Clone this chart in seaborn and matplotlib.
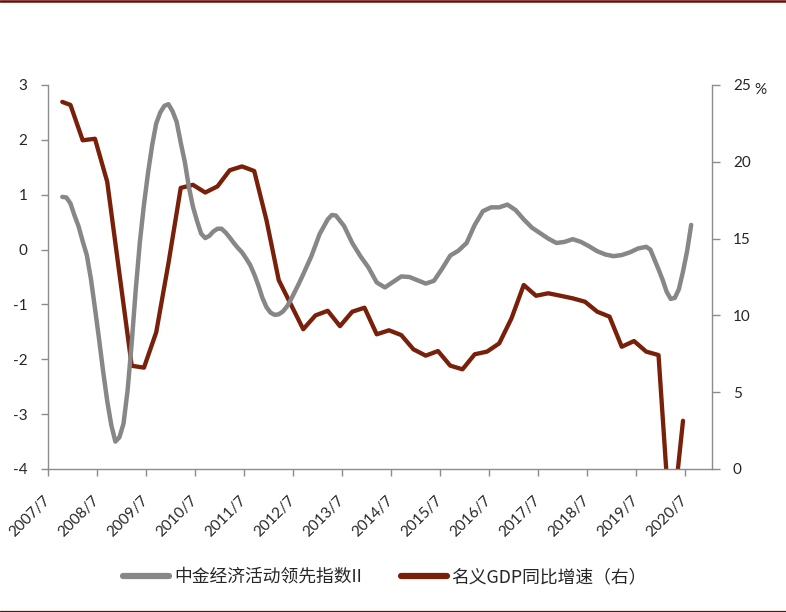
import matplotlib
matplotlib.use("Agg")
import matplotlib.pyplot as plt
import matplotlib.transforms as mtransforms
from matplotlib.lines import Line2D
import pandas as pd
import seaborn as sns

# 中金经济活动领先指数II (left axis), monthly readings
lead_dates = [
    "2007-10", "2007-11", "2007-12", "2008-01", "2008-02", "2008-03", "2008-04", "2008-05",
    "2008-06", "2008-07", "2008-08", "2008-09", "2008-10", "2008-11", "2008-12", "2009-01",
    "2009-02", "2009-03", "2009-04", "2009-05", "2009-06", "2009-07", "2009-08", "2009-09",
    "2009-10", "2009-11", "2009-12", "2010-01", "2010-02", "2010-03", "2010-04", "2010-05",
    "2010-06", "2010-07", "2010-08", "2010-09", "2010-10", "2010-11", "2010-12", "2011-01",
    "2011-02", "2011-03", "2011-04", "2011-05", "2011-06", "2011-07", "2011-08", "2011-09",
    "2011-10", "2011-11", "2011-12", "2012-01", "2012-02", "2012-03", "2012-04", "2012-05",
    "2012-06", "2012-07", "2012-08", "2012-09", "2012-11", "2013-01", "2013-03", "2013-04",
    "2013-05", "2013-07", "2013-09", "2013-11", "2014-01", "2014-03", "2014-05", "2014-07",
    "2014-09", "2014-11", "2015-01", "2015-03", "2015-05", "2015-07", "2015-09", "2015-11",
    "2016-01", "2016-03", "2016-05", "2016-07", "2016-09", "2016-11", "2017-01", "2017-03",
    "2017-05", "2017-07", "2017-09", "2017-11", "2018-01", "2018-03", "2018-05", "2018-07",
    "2018-09", "2018-11", "2019-01", "2019-03", "2019-05", "2019-07", "2019-09", "2019-10",
    "2019-11", "2019-12", "2020-01", "2020-02", "2020-03", "2020-04", "2020-05", "2020-06",
    "2020-07", "2020-08",
]
lead_values = [
    0.96, 0.95, 0.84, 0.62, 0.42, 0.15, -0.10, -0.53,
    -1.07, -1.63, -2.22, -2.76, -3.20, -3.50, -3.42, -3.17,
    -2.56, -1.70, -0.72, 0.14, 0.82, 1.40, 1.90, 2.30,
    2.50, 2.62, 2.65, 2.52, 2.33, 1.95, 1.60, 1.14,
    0.78, 0.52, 0.29, 0.21, 0.25, 0.33, 0.38, 0.38,
    0.31, 0.22, 0.12, 0.03, -0.05, -0.16, -0.28, -0.45,
    -0.65, -0.88, -1.05, -1.15, -1.19, -1.18, -1.13, -1.04,
    -0.91, -0.76, -0.61, -0.45, -0.12, 0.28, 0.55, 0.63,
    0.62, 0.43, 0.12, -0.12, -0.33, -0.60, -0.69, -0.59,
    -0.49, -0.50, -0.56, -0.62, -0.57, -0.35, -0.11, -0.02,
    0.12, 0.45, 0.70, 0.77, 0.77, 0.82, 0.72, 0.55,
    0.40, 0.30, 0.20, 0.12, 0.14, 0.19, 0.14, 0.06,
    -0.03, -0.09, -0.12, -0.10, -0.05, 0.02, 0.05, 0.00,
    -0.18, -0.36, -0.55, -0.77, -0.90, -0.88, -0.72, -0.40,
    -0.03, 0.45,
]

# 名义GDP同比增速 (right axis, %), quarterly
gdp_dates = [
    "2007-10", "2007-12",
    "2008-03", "2008-06", "2008-09", "2008-12",
    "2009-03", "2009-06", "2009-09", "2009-12",
    "2010-03", "2010-06", "2010-09", "2010-12",
    "2011-03", "2011-06", "2011-09", "2011-12",
    "2012-03", "2012-06", "2012-09", "2012-12",
    "2013-03", "2013-06", "2013-09", "2013-12",
    "2014-03", "2014-06", "2014-09", "2014-12",
    "2015-03", "2015-06", "2015-09", "2015-12",
    "2016-03", "2016-06", "2016-09", "2016-12",
    "2017-03", "2017-06", "2017-09", "2017-12",
    "2018-03", "2018-06", "2018-09", "2018-12",
    "2019-03", "2019-06", "2019-09", "2019-12",
    "2020-03", "2020-06",
]
gdp_values = [
    23.9, 23.7,
    21.4, 21.5, 18.7, 12.7,
    6.72, 6.6, 8.9, 13.4,
    18.3, 18.5, 18.0, 18.4,
    19.45, 19.7, 19.4, 16.2,
    12.3, 10.7, 9.1, 10.0,
    10.3, 9.3, 10.24, 10.5,
    8.77, 9.03, 8.72, 7.79,
    7.38, 7.68, 6.73, 6.49,
    7.47, 7.64, 8.18, 9.81,
    11.98, 11.28, 11.44, 11.28,
    11.11, 10.89, 10.24, 9.92,
    7.96, 8.33, 7.64, 7.42,
    -4.4, 3.14,
]

tick_labels = [f"{y}/7" for y in range(2007, 2021)]
lead_name = "中金经济活动领先指数II"
gdp_name = "名义GDP同比增速（右）"


def month_pos(d):
    """Months since 2007/7, centred in the month."""
    y, m = map(int, d.split("-"))
    return (y - 2007) * 12 + (m - 7) + 0.5


lead = pd.DataFrame({"x": [month_pos(d) for d in lead_dates], "v": lead_values})
gdp = pd.DataFrame({"x": [month_pos(d) for d in gdp_dates], "v": gdp_values})

sns.set_style("white")
plt.rcParams["font.family"] = ["Lato", "Noto Sans CJK SC", "DejaVu Sans"]
plt.rcParams["axes.unicode_minus"] = False

GRAY = "#878787"
RED = "#78200a"
AXC = "#8c8c8c"

fig = plt.figure(figsize=(7.86, 6.12), dpi=100)
ax = fig.add_axes([48 / 786, 1 - 469 / 612, (712 - 48) / 786, (469 - 85) / 612])
ax2 = ax.twinx()

sns.lineplot(data=gdp, x="x", y="v", ax=ax2, color=RED, linewidth=3.1,
             solid_joinstyle="round", solid_capstyle="round")
sns.lineplot(data=lead, x="x", y="v", ax=ax, color=GRAY, linewidth=3.2,
             solid_joinstyle="round", solid_capstyle="round")

# gray line above the red one
ax.set_zorder(ax2.get_zorder() + 1)
ax.patch.set_visible(False)

ax.set_xlim(0, 162.6)
ax.set_ylim(-4, 3)
ax2.set_ylim(0, 25)
ax.set_yticks(range(-4, 4))
ax2.set_yticks(range(0, 26, 5))
ax.set_xticks([12 * i for i in range(len(tick_labels))])
ax.set_xticklabels(tick_labels, rotation=45, ha="right", va="center",
                   rotation_mode="anchor")
offset = mtransforms.ScaledTranslation(-8 / 100, 0, fig.dpi_scale_trans)
for lab in ax.get_xticklabels():
    lab.set_transform(lab.get_transform() + offset)

for a in (ax, ax2):
    a.set_xlabel("")
    a.set_ylabel("")
    for s in a.spines.values():
        s.set_visible(False)
    a.grid(False)

for side in ("left", "bottom"):
    ax.spines[side].set_visible(True)
    ax.spines[side].set_color(AXC)
    ax.spines[side].set_linewidth(1.0)
ax2.spines["right"].set_visible(True)
ax2.spines["right"].set_color(AXC)
ax2.spines["right"].set_linewidth(1.0)

ax.tick_params(axis="y", direction="out", length=5, width=1, color=AXC,
               labelsize=11, pad=10, left=True)
ax.tick_params(axis="x", direction="out", length=5, width=1, color=AXC,
               labelsize=11, pad=16, bottom=True)
ax2.tick_params(axis="y", direction="out", length=6, width=1, color=AXC,
                labelsize=11, pad=9, right=True)

fig.text(760 / 786, 1 - 90 / 612, "%", ha="center", va="center", fontsize=11)

handles = [Line2D([], [], color=GRAY, linewidth=4.5),
           Line2D([], [], color=RED, linewidth=4.5)]
fig.legend(handles, [lead_name, gdp_name], loc="center",
           bbox_to_anchor=(385 / 786, 1 - 577 / 612), ncol=2, frameon=False,
           prop={"family": ["Noto Sans CJK SC", "Lato"], "size": 12.8},
           handlelength=2.6, handletextpad=0.25, columnspacing=2.2)

# dark red rules at top and bottom of the figure
fig.add_artist(Line2D([0, 1], [1 - 1.2 / 612] * 2, transform=fig.transFigure,
                      color="#6b0a0a", linewidth=1.8))
fig.add_artist(Line2D([0, 1], [1.2 / 612] * 2, transform=fig.transFigure,
                      color="#6b0a0a", linewidth=0.9))

fig.savefig("out.png", dpi=100)
plt.close(fig)
